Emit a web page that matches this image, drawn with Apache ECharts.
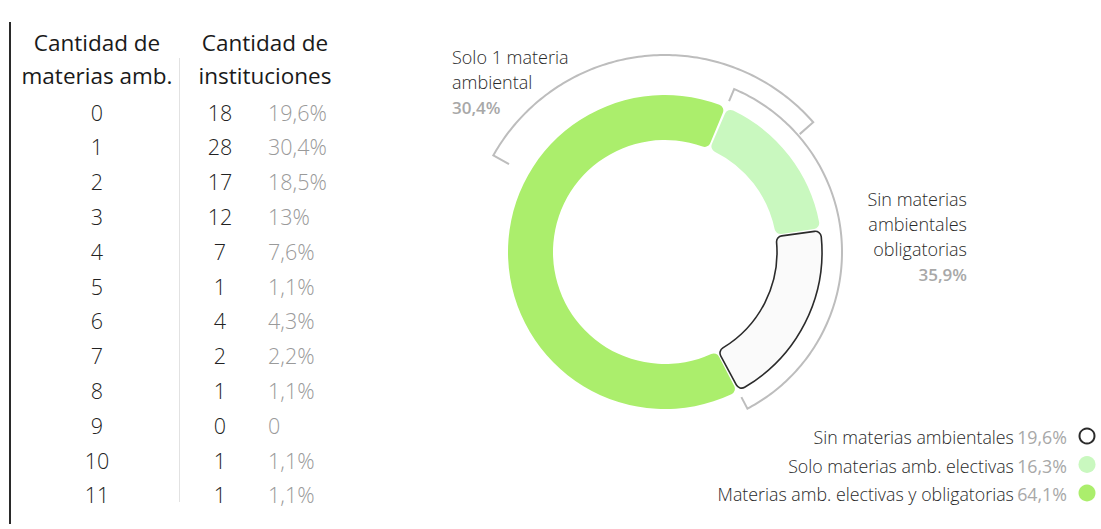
<!DOCTYPE html>
<html>
<head>
<meta charset="utf-8">
<script src="https://cdn.jsdelivr.net/npm/echarts@6/dist/echarts.min.js"></script>
<style>
  html, body { margin: 0; padding: 0; background: #ffffff; }
  #chart { width: 1101px; height: 529px; }
</style>
</head>
<body>
<div id="chart"></div>
<script>
// Tabla: cantidad de materias ambientales por institución
const materias = ['0', '1', '2', '3', '4', '5', '6', '7', '8', '9', '10', '11'];
const instituciones = [18, 28, 17, 12, 7, 1, 4, 2, 1, 0, 1, 1];
const porcentajes = ['19,6%', '30,4%', '18,5%', '13%', '7,6%', '1,1%', '4,3%', '2,2%', '1,1%', '0', '1,1%', '1,1%'];
const encabezado1 = ['Cantidad de', 'materias amb.'];
const encabezado2 = ['Cantidad de', 'instituciones'];

// Anillo: grupos de instituciones (en el orden de la leyenda)
const grupos = ['Sin materias ambientales', 'Solo materias amb. electivas', 'Materias amb. electivas y obligatorias'];
const gruposPct = [19.6, 16.3, 64.1];
// Orden de los sectores en el anillo, en sentido horario
const ordenAnillo = [1, 0, 2];

// Llaves exteriores
const llaveTextos = [['Solo 1 materia', 'ambiental'], ['Sin materias', 'ambientales', 'obligatorias']];
const llavePct = [30.4, 35.9];

const fmt = v => v.toFixed(1).replace('.', ',') + '%';

const FONT = '"Open Sans", Lato, sans-serif';
const CX = 665, CY = 252;

// Colores de los sectores
const colores = [
  { color: '#fafafa', borderColor: '#2b2b2b', borderWidth: 1.6 },
  { color: '#c9f8bf' },
  { color: '#abee6c' }
];

const chart = echarts.init(document.getElementById('chart'), null, { renderer: 'svg' });

// --- Tabla de la izquierda ---
const graphics = [];
graphics.push({ type: 'line', shape: { x1: 10, y1: 22, x2: 10, y2: 524 }, style: { stroke: '#2a2a2a', lineWidth: 2 } });
graphics.push({ type: 'line', shape: { x1: 179.5, y1: 58, x2: 179.5, y2: 502 }, style: { stroke: '#e2e2e2', lineWidth: 1 } });

const headStyle = { fill: '#1a1a1a', fontSize: 22.5, fontFamily: FONT, fontWeight: 400, align: 'center', verticalAlign: 'middle' };
encabezado1.forEach((t, i) => graphics.push({ type: 'text', x: 97, y: 42 + i * 33, style: Object.assign({ text: t }, headStyle) }));
encabezado2.forEach((t, i) => graphics.push({ type: 'text', x: 265, y: 42 + i * 33, style: Object.assign({ text: t }, headStyle) }));

const rowY0 = 112, rowStep = 34.8;
const numStyle = { fill: '#222', fontSize: 21.5, fontFamily: FONT, fontWeight: 300, verticalAlign: 'middle' };
materias.forEach((m, i) => {
  const y = rowY0 + i * rowStep;
  graphics.push({ type: 'text', x: 97, y: y, style: Object.assign({ text: m, align: 'center' }, numStyle) });
  graphics.push({ type: 'text', x: 220, y: y, style: Object.assign({ text: String(instituciones[i]), align: 'center' }, numStyle) });
  graphics.push({ type: 'text', x: 268, y: y, style: Object.assign({}, numStyle, { text: porcentajes[i], align: 'left', fill: '#9a9a9a' }) });
});

// --- Rótulos de las llaves ---
const labStyle = { fill: '#2a2a2a', fontSize: 18, fontFamily: FONT, fontWeight: 300, verticalAlign: 'middle' };
const pctStyle = { fill: '#a8a8a8', fontSize: 17, fontFamily: FONT, fontWeight: 600, verticalAlign: 'middle' };
llaveTextos[0].forEach((t, i) => graphics.push({ type: 'text', x: 452, y: 57 + i * 25, style: Object.assign({ text: t, align: 'left' }, labStyle) }));
graphics.push({ type: 'text', x: 452, y: 57 + llaveTextos[0].length * 25, style: Object.assign({ text: fmt(llavePct[0]), align: 'left' }, pctStyle) });
llaveTextos[1].forEach((t, i) => graphics.push({ type: 'text', x: 967, y: 199 + i * 25, style: Object.assign({ text: t, align: 'right' }, labStyle) }));
graphics.push({ type: 'text', x: 967, y: 199 + llaveTextos[1].length * 25, style: Object.assign({ text: fmt(llavePct[1]), align: 'right' }, pctStyle) });

// --- Leyenda ---
grupos.forEach((g, i) => {
  const y = 437 + i * 28.5;
  graphics.push({
    type: 'text', x: 1067, y: y,
    style: {
      text: '{n|' + g + '} {p|' + fmt(gruposPct[i]) + '}',
      align: 'right', verticalAlign: 'middle',
      rich: {
        n: { fill: '#2a2a2a', fontSize: 17.8, fontFamily: FONT, fontWeight: 300 },
        p: { fill: '#a8a8a8', fontSize: 17.8, fontFamily: FONT, fontWeight: 500 }
      }
    }
  });
  const c = colores[i];
  graphics.push({
    type: 'circle', shape: { cx: 1087, cy: y - 1, r: c.borderColor ? 7.5 : 8.5 },
    style: { fill: c.borderColor ? '#ffffff' : c.color, stroke: c.borderColor || null, lineWidth: c.borderColor ? 2 : 0 }
  });
});

// Inicio del anillo: el sector de electivas empieza 23° a la derecha de las 12
const ringStart = 67;
// Posición de las llaves en % del anillo, medida desde el inicio del anillo
const llaveFin0 = 7.17;
const llaves = [
  [197, llaveFin0 - llavePct[0], llaveFin0, 18],
  [177, 0, gruposPct[1] + gruposPct[0], 13]
];

const option = {
  animation: false,
  polar: { center: [CX, CY], radius: 200 },
  angleAxis: { type: 'value', min: 0, max: 100, startAngle: ringStart, clockwise: true, show: false },
  radiusAxis: { type: 'value', min: 0, max: 200, show: false },
  graphic: graphics,
  series: [
    {
      type: 'pie',
      center: [CX, CY],
      radius: [112, 157],
      startAngle: ringStart,
      clockwise: true,
      padAngle: 0.9,
      silent: true,
      label: { show: false },
      labelLine: { show: false },
      itemStyle: { borderRadius: 6 },
      data: ordenAnillo.map(k => ({ name: grupos[k], value: gruposPct[k], itemStyle: colores[k] }))
    },
    {
      type: 'custom',
      coordinateSystem: 'polar',
      silent: true,
      data: llaves,
      renderItem: function (params, api) {
        const r = api.value(0), a0 = api.value(1), a1 = api.value(2), tick = api.value(3);
        const pts = [api.coord([r - tick, a0])];
        const steps = Math.ceil((a1 - a0) / 0.25);
        for (let s = 0; s <= steps; s++) {
          pts.push(api.coord([r, a0 + (a1 - a0) * s / steps]));
        }
        pts.push(api.coord([r - tick, a1]));
        return {
          type: 'polyline',
          shape: { points: pts },
          style: { stroke: '#bdbdbd', lineWidth: 2, fill: null }
        };
      }
    }
  ]
};
chart.setOption(option);
</script>
</body>
</html>
